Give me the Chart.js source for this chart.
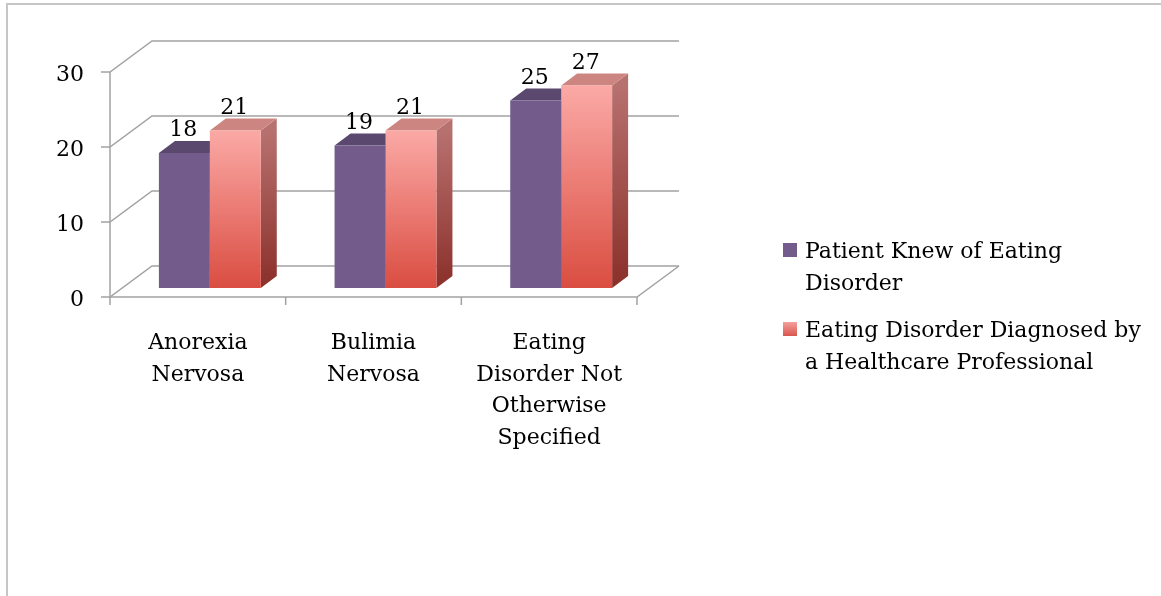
<!DOCTYPE html>
<html>
<head>
<meta charset="utf-8">
<script src="https://cdn.jsdelivr.net/npm/chart.js@4.4.1/dist/chart.umd.min.js"></script>
<style>
  html, body { margin: 0; padding: 0; background: #fff; overflow: hidden; }
  body { width: 1161px; height: 596px; position: relative; font-family: "DejaVu Serif", serif; color: #000; }
  #frame { position: absolute; left: 6px; top: 3px; width: 1153px; height: 600px; border-left: 2px solid #c6c6c6; border-top: 2px solid #c6c6c6; }
  #chart { position: absolute; left: 0; top: 0; }
  .lg { position: absolute; left: 783px; width: 370px; }
  .lg .sw { position: absolute; left: 0; width: 14px; height: 14px; }
  .lg .tx { position: absolute; left: 22px; width: 345px; font-size: 22px; line-height: 31.5px; }
</style>
</head>
<body>
<div id="frame"></div>
<canvas id="chart" width="1161" height="596"></canvas>
<div id="legend"></div>
<script>
// カテゴリ・系列データ
const categories = [
  ["Anorexia", "Nervosa"],
  ["Bulimia", "Nervosa"],
  ["Eating", "Disorder Not", "Otherwise", "Specified"]
];
const seriesNames = [
  "Patient Knew of Eating Disorder",
  "Eating Disorder Diagnosed by a Healthcare Professional"
];
const knewValues = [18, 19, 25];
const diagnosedValues = [21, 21, 27];
const yTicks = [0, 10, 20, 30];

// 3D 表現用の色
const faceStyles = [
  { front: ["#735c8c", "#735c8c"], top: "#5a486f", side: ["#5a486f", "#4a3a5d"], swatch: ["#735c8c", "#735c8c"] },
  { front: ["#fba9a6", "#da4d41"], top: "#cd8582", side: ["#b7716f", "#8b2f29"], swatch: ["#f4a09b", "#d9574e"] }
];

// 奥行きのオフセット（px）
const FRONT = { dx: -12, dy: 9 };
const BACK = { dx: 30, dy: -22 };
const BAR_DEPTH = { dx: 16, dy: -12 };

function frontGradient(c, values, style) {
  const chart = c.chart;
  const yS = chart.scales.y;
  if (!yS || c.dataIndex === undefined) return style.front[1];
  const y1 = yS.getPixelForValue(values[c.dataIndex]);
  const y2 = yS.getPixelForValue(0);
  if (!Number.isFinite(y1) || !Number.isFinite(y2)) return style.front[1];
  const g = chart.ctx.createLinearGradient(0, y1, 0, y2);
  g.addColorStop(0, style.front[0]);
  g.addColorStop(1, style.front[1]);
  return g;
}

const depth3d = {
  id: "depth3d",
  beforeDatasetsDraw(chart) {
    const { ctx, chartArea, scales: { x, y } } = chart;
    const left = chartArea.left, right = chartArea.right;
    ctx.save();
    ctx.strokeStyle = "#a2a2a2";
    ctx.lineWidth = 1.5;

    // 背面グリッドと左側の斜線
    yTicks.forEach(v => {
      const py = y.getPixelForValue(v);
      ctx.beginPath();
      ctx.moveTo(left + FRONT.dx - 9, py + FRONT.dy);
      ctx.lineTo(left + FRONT.dx, py + FRONT.dy);
      ctx.lineTo(left + BACK.dx, py + BACK.dy);
      ctx.lineTo(right + BACK.dx, py + BACK.dy);
      ctx.stroke();
    });

    // 手前の軸と床
    const y0 = y.getPixelForValue(0), yTop = y.getPixelForValue(yTicks[yTicks.length - 1]);
    ctx.beginPath();
    ctx.moveTo(left + FRONT.dx, yTop + FRONT.dy);
    ctx.lineTo(left + FRONT.dx, y0 + FRONT.dy);
    ctx.lineTo(right + FRONT.dx, y0 + FRONT.dy);
    ctx.lineTo(right + BACK.dx, y0 + BACK.dy);
    ctx.stroke();

    const catW = (right - left) / categories.length;
    for (let k = 0; k <= categories.length; k++) {
      const px = x.getPixelForValue(0) - catW / 2 + k * catW + FRONT.dx;
      ctx.beginPath();
      ctx.moveTo(px, y0 + FRONT.dy);
      ctx.lineTo(px, y0 + FRONT.dy + 8);
      ctx.stroke();
    }

    // 棒の側面と上面
    chart.data.datasets.forEach((ds, di) => {
      const st = faceStyles[di];
      chart.getDatasetMeta(di).data.forEach(bar => {
        const p = bar.getProps(["x", "y", "base", "width"], true);
        const l = p.x - p.width / 2, r = p.x + p.width / 2;
        const sg = ctx.createLinearGradient(0, p.y, 0, p.base);
        sg.addColorStop(0, st.side[0]);
        sg.addColorStop(1, st.side[1]);
        ctx.fillStyle = sg;
        ctx.beginPath();
        ctx.moveTo(r, p.y);
        ctx.lineTo(r + BAR_DEPTH.dx, p.y + BAR_DEPTH.dy);
        ctx.lineTo(r + BAR_DEPTH.dx, p.base + BAR_DEPTH.dy);
        ctx.lineTo(r, p.base);
        ctx.closePath();
        ctx.fill();

        ctx.fillStyle = st.top;
        ctx.beginPath();
        ctx.moveTo(l, p.y);
        ctx.lineTo(l + BAR_DEPTH.dx, p.y + BAR_DEPTH.dy);
        ctx.lineTo(r + BAR_DEPTH.dx, p.y + BAR_DEPTH.dy);
        ctx.lineTo(r, p.y);
        ctx.closePath();
        ctx.fill();
      });
    });
    ctx.restore();
  },
  afterDatasetsDraw(chart) {
    const ctx = chart.ctx;
    ctx.save();
    ctx.font = '22px "DejaVu Serif"';
    ctx.fillStyle = "#000";
    ctx.textAlign = "center";
    ctx.textBaseline = "alphabetic";
    chart.data.datasets.forEach((ds, di) => {
      chart.getDatasetMeta(di).data.forEach((bar, i) => {
        const p = bar.getProps(["x", "y"], true);
        ctx.fillText(String(ds.data[i]), p.x - 1, p.y + BAR_DEPTH.dy - 5);
      });
    });
    ctx.restore();
  }
};

new Chart(document.getElementById("chart").getContext("2d"), {
  type: "bar",
  data: {
    labels: categories,
    datasets: [
      {
        label: seriesNames[0],
        data: knewValues,
        backgroundColor: c => frontGradient(c, knewValues, faceStyles[0]),
        categoryPercentage: 0.58,
        barPercentage: 1.0
      },
      {
        label: seriesNames[1],
        data: diagnosedValues,
        backgroundColor: c => frontGradient(c, diagnosedValues, faceStyles[1]),
        categoryPercentage: 0.58,
        barPercentage: 1.0
      }
    ]
  },
  options: {
    responsive: false,
    animation: false,
    devicePixelRatio: 1,
    layout: { padding: { top: 63, left: 10, right: 512, bottom: 0 } },
    plugins: {
      legend: { display: false },
      tooltip: { enabled: false }
    },
    scales: {
      x: {
        grid: { display: false, drawTicks: false },
        border: { display: false },
        ticks: {
          color: "#000",
          font: { family: "DejaVu Serif", size: 22, lineHeight: 1.43 },
          padding: 40,
          labelOffset: -12,
          maxRotation: 0,
          autoSkip: false
        },
        afterFit: s => { s.height = 308; }
      },
      y: {
        min: 0,
        max: 30,
        grid: { display: false, drawTicks: false },
        border: { display: false },
        ticks: {
          stepSize: 10,
          color: "#000",
          font: { family: "DejaVu Serif", size: 22 },
          padding: 38,
          labelOffset: 12
        },
        afterFit: s => { s.width = 112; }
      }
    }
  },
  plugins: [depth3d]
});

// 凡例（HTML）
const legendTops = [235, 314];
const legendEl = document.getElementById("legend");
seriesNames.forEach((name, i) => {
  const st = faceStyles[i];
  const item = document.createElement("div");
  item.className = "lg";
  item.style.top = legendTops[i] + "px";
  item.innerHTML = `<div class="sw" style="top:8px;background:linear-gradient(${st.swatch[0]}, ${st.swatch[1]})"></div><div class="tx">${name}</div>`;
  legendEl.appendChild(item);
});
</script>
</body>
</html>
